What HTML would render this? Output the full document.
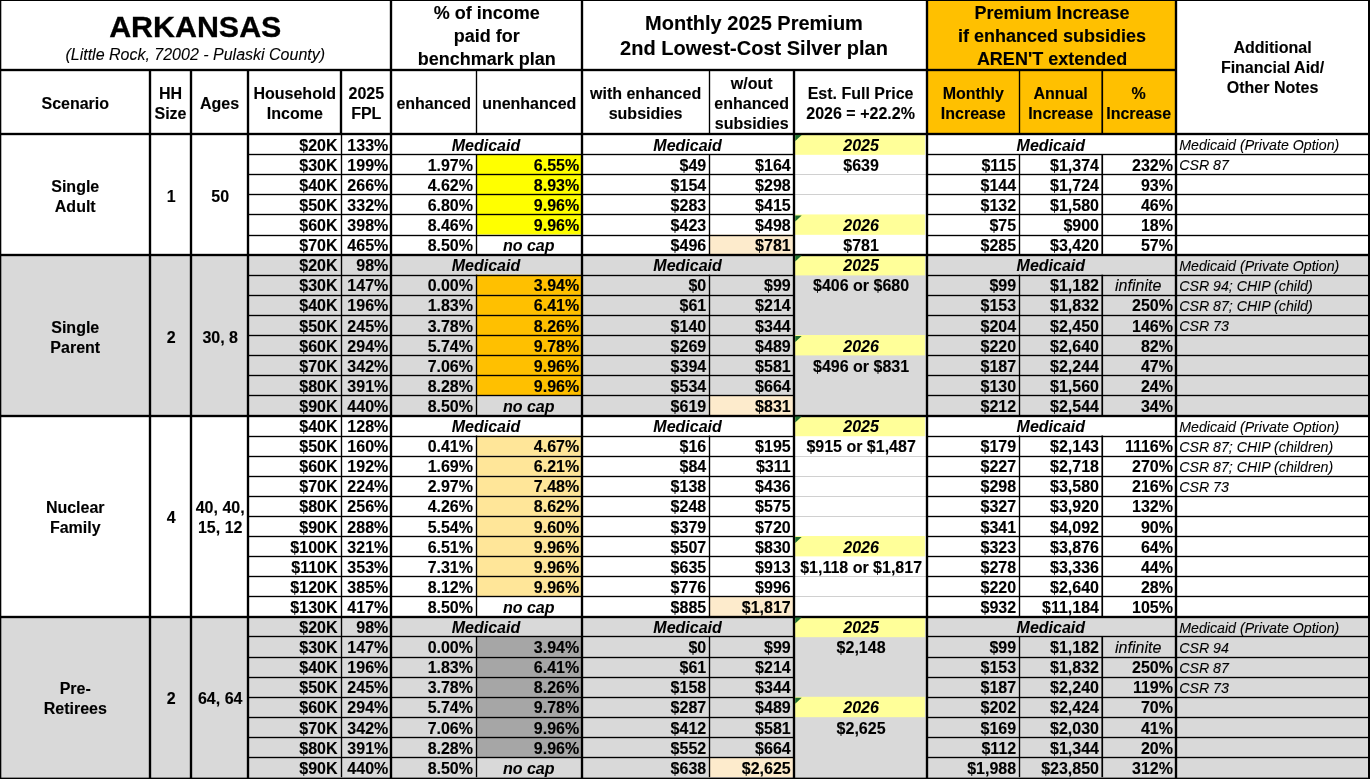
<!DOCTYPE html>
<html><head><meta charset="utf-8"><title>Arkansas</title>
<style>
html,body{margin:0;padding:0;background:#fff;}
html{width:1370px;height:779px;overflow:hidden;}
body{width:1370px;height:779px;overflow:hidden;position:relative;font-family:"Liberation Sans",sans-serif;color:#000;}
#wrap{position:absolute;left:0;top:0;width:1370px;height:779px;will-change:transform;overflow:hidden;}
.r{position:absolute;}
.t{position:absolute;display:flex;align-items:center;justify-content:center;text-align:center;font-weight:bold;font-size:16px;line-height:20px;white-space:nowrap;box-sizing:border-box;-webkit-text-stroke:0.12px #000;}
.t.rt{justify-content:flex-end;text-align:right;}
.t.lt{justify-content:flex-start;text-align:left;}
.t.i{font-style:italic;-webkit-text-stroke:0.06px #000;}
.t.n{font-weight:normal;-webkit-text-stroke:0.1px #000;}
.tri{position:absolute;width:0;height:0;border-top:6px solid #1f6e2f;border-right:6.5px solid transparent;}
</style></head><body>
<div id="wrap">
<svg width="1370" height="779" viewBox="0 0 1370 779" style="position:absolute;left:0;top:0">
<rect x="926.50" y="0.00" width="248.70" height="134.00" fill="#ffc000"/>
<rect x="794.70" y="135.00" width="130.20" height="19.82" fill="#ffff99"/>
<rect x="476.00" y="154.12" width="105.50" height="20.10" fill="#ffff00"/>
<rect x="476.00" y="174.22" width="105.50" height="20.10" fill="#ffff00"/>
<rect x="476.00" y="194.32" width="105.50" height="20.10" fill="#ffff00"/>
<rect x="476.00" y="214.42" width="105.50" height="20.10" fill="#ffff00"/>
<rect x="794.70" y="214.42" width="130.20" height="20.40" fill="#ffff99"/>
<rect x="708.70" y="234.52" width="85.00" height="20.10" fill="#fdebcc"/>
<rect x="0.00" y="254.61" width="1370.00" height="160.79" fill="#d9d9d9"/>
<rect x="794.70" y="255.61" width="130.20" height="19.80" fill="#ffff99"/>
<rect x="476.00" y="274.71" width="105.50" height="20.10" fill="#ffc000"/>
<rect x="476.00" y="294.81" width="105.50" height="20.10" fill="#ffc000"/>
<rect x="476.00" y="314.91" width="105.50" height="20.10" fill="#ffc000"/>
<rect x="476.00" y="335.01" width="105.50" height="20.10" fill="#ffc000"/>
<rect x="794.70" y="335.01" width="130.20" height="20.40" fill="#ffff99"/>
<rect x="476.00" y="355.11" width="105.50" height="20.10" fill="#ffc000"/>
<rect x="476.00" y="375.21" width="105.50" height="20.10" fill="#ffc000"/>
<rect x="708.70" y="395.31" width="85.00" height="20.10" fill="#fdebcc"/>
<rect x="794.70" y="416.41" width="130.20" height="19.80" fill="#ffff99"/>
<rect x="476.00" y="435.50" width="105.50" height="20.10" fill="#ffe699"/>
<rect x="476.00" y="455.60" width="105.50" height="20.10" fill="#ffe699"/>
<rect x="476.00" y="475.70" width="105.50" height="20.10" fill="#ffe699"/>
<rect x="476.00" y="495.80" width="105.50" height="20.10" fill="#ffe699"/>
<rect x="476.00" y="515.90" width="105.50" height="20.10" fill="#ffe699"/>
<rect x="476.00" y="536.00" width="105.50" height="20.10" fill="#ffe699"/>
<rect x="794.70" y="536.00" width="130.20" height="20.40" fill="#ffff99"/>
<rect x="476.00" y="556.10" width="105.50" height="20.10" fill="#ffe699"/>
<rect x="476.00" y="576.20" width="105.50" height="20.10" fill="#ffe699"/>
<rect x="708.70" y="596.30" width="85.00" height="20.10" fill="#fdebcc"/>
<rect x="0.00" y="616.40" width="1370.00" height="160.79" fill="#d9d9d9"/>
<rect x="794.70" y="617.40" width="130.20" height="19.80" fill="#ffff99"/>
<rect x="476.00" y="636.50" width="105.50" height="20.10" fill="#a6a6a6"/>
<rect x="476.00" y="656.59" width="105.50" height="20.10" fill="#a6a6a6"/>
<rect x="476.00" y="676.69" width="105.50" height="20.10" fill="#a6a6a6"/>
<rect x="476.00" y="696.79" width="105.50" height="20.10" fill="#a6a6a6"/>
<rect x="794.70" y="696.79" width="130.20" height="20.40" fill="#ffff99"/>
<rect x="476.00" y="716.89" width="105.50" height="20.10" fill="#a6a6a6"/>
<rect x="476.00" y="736.99" width="105.50" height="20.10" fill="#a6a6a6"/>
<rect x="708.70" y="757.09" width="85.00" height="20.10" fill="#fdebcc"/>
<rect x="793.70" y="174.00" width="132.80" height="1.00" fill="#d0d0d0"/>
<rect x="793.70" y="194.00" width="132.80" height="1.00" fill="#d0d0d0"/>
<rect x="793.70" y="456.00" width="132.80" height="1.00" fill="#d0d0d0"/>
<rect x="793.70" y="476.00" width="132.80" height="1.00" fill="#d0d0d0"/>
<rect x="793.70" y="496.00" width="132.80" height="1.00" fill="#d0d0d0"/>
<rect x="793.70" y="516.00" width="132.80" height="1.00" fill="#d0d0d0"/>
<rect x="793.70" y="576.00" width="132.80" height="1.00" fill="#d0d0d0"/>
<rect x="793.70" y="596.00" width="132.80" height="1.00" fill="#d0d0d0"/>
<rect x="247.50" y="153.82" width="546.20" height="1.36" fill="#000"/>
<rect x="926.50" y="153.82" width="443.50" height="1.36" fill="#000"/>
<rect x="247.50" y="173.82" width="546.20" height="1.36" fill="#000"/>
<rect x="926.50" y="173.82" width="443.50" height="1.36" fill="#000"/>
<rect x="247.50" y="193.82" width="546.20" height="1.36" fill="#000"/>
<rect x="926.50" y="193.82" width="443.50" height="1.36" fill="#000"/>
<rect x="247.50" y="213.82" width="546.20" height="1.36" fill="#000"/>
<rect x="926.50" y="213.82" width="443.50" height="1.36" fill="#000"/>
<rect x="247.50" y="234.82" width="546.20" height="1.36" fill="#000"/>
<rect x="926.50" y="234.82" width="443.50" height="1.36" fill="#000"/>
<rect x="340.82" y="134.00" width="1.36" height="120.61" fill="#000"/>
<rect x="475.82" y="154.12" width="1.36" height="100.50" fill="#000"/>
<rect x="708.82" y="154.12" width="1.36" height="100.50" fill="#000"/>
<rect x="1018.82" y="154.12" width="1.36" height="100.50" fill="#000"/>
<rect x="1101.40" y="154.12" width="1.70" height="100.50" fill="#000"/>
<rect x="247.50" y="274.82" width="546.20" height="1.36" fill="#000"/>
<rect x="926.50" y="274.82" width="443.50" height="1.36" fill="#000"/>
<rect x="247.50" y="294.82" width="546.20" height="1.36" fill="#000"/>
<rect x="926.50" y="294.82" width="443.50" height="1.36" fill="#000"/>
<rect x="247.50" y="314.82" width="546.20" height="1.36" fill="#000"/>
<rect x="926.50" y="314.82" width="443.50" height="1.36" fill="#000"/>
<rect x="247.50" y="334.82" width="546.20" height="1.36" fill="#000"/>
<rect x="926.50" y="334.82" width="443.50" height="1.36" fill="#000"/>
<rect x="247.50" y="354.82" width="546.20" height="1.36" fill="#000"/>
<rect x="926.50" y="354.82" width="443.50" height="1.36" fill="#000"/>
<rect x="247.50" y="374.82" width="546.20" height="1.36" fill="#000"/>
<rect x="926.50" y="374.82" width="443.50" height="1.36" fill="#000"/>
<rect x="247.50" y="394.82" width="546.20" height="1.36" fill="#000"/>
<rect x="926.50" y="394.82" width="443.50" height="1.36" fill="#000"/>
<rect x="340.82" y="254.61" width="1.36" height="160.79" fill="#000"/>
<rect x="475.82" y="274.71" width="1.36" height="140.69" fill="#000"/>
<rect x="708.82" y="274.71" width="1.36" height="140.69" fill="#000"/>
<rect x="1018.82" y="274.71" width="1.36" height="140.69" fill="#000"/>
<rect x="1101.40" y="274.71" width="1.70" height="140.69" fill="#000"/>
<rect x="247.50" y="435.82" width="546.20" height="1.36" fill="#000"/>
<rect x="926.50" y="435.82" width="443.50" height="1.36" fill="#000"/>
<rect x="247.50" y="455.82" width="546.20" height="1.36" fill="#000"/>
<rect x="926.50" y="455.82" width="443.50" height="1.36" fill="#000"/>
<rect x="247.50" y="475.82" width="546.20" height="1.36" fill="#000"/>
<rect x="926.50" y="475.82" width="443.50" height="1.36" fill="#000"/>
<rect x="247.50" y="495.82" width="546.20" height="1.36" fill="#000"/>
<rect x="926.50" y="495.82" width="443.50" height="1.36" fill="#000"/>
<rect x="247.50" y="515.82" width="546.20" height="1.36" fill="#000"/>
<rect x="926.50" y="515.82" width="443.50" height="1.36" fill="#000"/>
<rect x="247.50" y="535.82" width="546.20" height="1.36" fill="#000"/>
<rect x="926.50" y="535.82" width="443.50" height="1.36" fill="#000"/>
<rect x="247.50" y="555.82" width="546.20" height="1.36" fill="#000"/>
<rect x="926.50" y="555.82" width="443.50" height="1.36" fill="#000"/>
<rect x="247.50" y="575.82" width="546.20" height="1.36" fill="#000"/>
<rect x="926.50" y="575.82" width="443.50" height="1.36" fill="#000"/>
<rect x="247.50" y="595.82" width="546.20" height="1.36" fill="#000"/>
<rect x="926.50" y="595.82" width="443.50" height="1.36" fill="#000"/>
<rect x="340.82" y="415.41" width="1.36" height="200.99" fill="#000"/>
<rect x="475.82" y="435.50" width="1.36" height="180.89" fill="#000"/>
<rect x="708.82" y="435.50" width="1.36" height="180.89" fill="#000"/>
<rect x="1018.82" y="435.50" width="1.36" height="180.89" fill="#000"/>
<rect x="1101.40" y="435.50" width="1.70" height="180.89" fill="#000"/>
<rect x="247.50" y="635.82" width="546.20" height="1.36" fill="#000"/>
<rect x="926.50" y="635.82" width="443.50" height="1.36" fill="#000"/>
<rect x="247.50" y="656.82" width="546.20" height="1.36" fill="#000"/>
<rect x="926.50" y="656.82" width="443.50" height="1.36" fill="#000"/>
<rect x="247.50" y="676.82" width="546.20" height="1.36" fill="#000"/>
<rect x="926.50" y="676.82" width="443.50" height="1.36" fill="#000"/>
<rect x="247.50" y="696.82" width="546.20" height="1.36" fill="#000"/>
<rect x="926.50" y="696.82" width="443.50" height="1.36" fill="#000"/>
<rect x="247.50" y="716.82" width="546.20" height="1.36" fill="#000"/>
<rect x="926.50" y="716.82" width="443.50" height="1.36" fill="#000"/>
<rect x="247.50" y="736.82" width="546.20" height="1.36" fill="#000"/>
<rect x="926.50" y="736.82" width="443.50" height="1.36" fill="#000"/>
<rect x="247.50" y="756.82" width="546.20" height="1.36" fill="#000"/>
<rect x="926.50" y="756.82" width="443.50" height="1.36" fill="#000"/>
<rect x="340.82" y="616.40" width="1.36" height="160.79" fill="#000"/>
<rect x="475.82" y="636.50" width="1.36" height="140.69" fill="#000"/>
<rect x="708.82" y="636.50" width="1.36" height="140.69" fill="#000"/>
<rect x="1018.82" y="636.50" width="1.36" height="140.69" fill="#000"/>
<rect x="1101.40" y="636.50" width="1.70" height="140.69" fill="#000"/>
<rect x="475.82" y="70.00" width="1.36" height="64.00" fill="#000"/>
<rect x="708.82" y="70.00" width="1.36" height="64.00" fill="#000"/>
<rect x="339.82" y="70.00" width="2.36" height="64.00" fill="#000"/>
<rect x="1018.82" y="70.00" width="1.36" height="64.00" fill="#000"/>
<rect x="1101.40" y="70.00" width="1.70" height="64.00" fill="#000"/>
<rect x="148.82" y="70.00" width="2.36" height="709.00" fill="#000"/>
<rect x="189.82" y="70.00" width="2.36" height="709.00" fill="#000"/>
<rect x="246.82" y="70.00" width="2.36" height="709.00" fill="#000"/>
<rect x="389.82" y="0.00" width="2.36" height="779.00" fill="#000"/>
<rect x="580.82" y="0.00" width="2.36" height="779.00" fill="#000"/>
<rect x="925.82" y="0.00" width="2.36" height="779.00" fill="#000"/>
<rect x="1174.82" y="0.00" width="2.36" height="779.00" fill="#000"/>
<rect x="792.82" y="70.00" width="2.36" height="709.00" fill="#000"/>
<rect x="0.00" y="0.00" width="1.30" height="779.00" fill="#000"/>
<rect x="1368.00" y="0.00" width="2.00" height="779.00" fill="#000"/>
<rect x="0.00" y="0.00" width="1370.00" height="1.00" fill="#000"/>
<rect x="0.00" y="777.00" width="1370.00" height="1.00" fill="rgba(0,0,0,0.45)"/>
<rect x="0.00" y="778.00" width="1370.00" height="1.00" fill="#000"/>
<rect x="0.00" y="68.82" width="1175.20" height="2.36" fill="#000"/>
<rect x="0.00" y="132.82" width="1370.00" height="2.36" fill="#000"/>
<rect x="0.00" y="253.82" width="1370.00" height="2.36" fill="#000"/>
<rect x="0.00" y="414.82" width="1370.00" height="2.36" fill="#000"/>
<rect x="0.00" y="615.82" width="1370.00" height="2.36" fill="#000"/>
<path d="M795.20 135.00h6.50l-6.50 6.00z" fill="#1f6e2f"/>
<path d="M795.20 215.42h6.50l-6.50 6.00z" fill="#1f6e2f"/>
<path d="M795.20 255.61h6.50l-6.50 6.00z" fill="#1f6e2f"/>
<path d="M795.20 336.01h6.50l-6.50 6.00z" fill="#1f6e2f"/>
<path d="M795.20 416.41h6.50l-6.50 6.00z" fill="#1f6e2f"/>
<path d="M795.20 537.00h6.50l-6.50 6.00z" fill="#1f6e2f"/>
<path d="M795.20 617.40h6.50l-6.50 6.00z" fill="#1f6e2f"/>
<path d="M795.20 697.79h6.50l-6.50 6.00z" fill="#1f6e2f"/>
</svg>
<div class="t " style="left:0.00px;top:1.00px;width:390.50px;height:69.00px;font-size:30.4px;line-height:34px;align-items:flex-start;padding-top:8px;-webkit-text-stroke:0.3px #000"><span>ARKANSAS</span></div>
<div class="t i n" style="left:0.00px;top:1.00px;width:390.50px;height:69.00px;font-size:16px;line-height:18px;align-items:flex-start;padding-top:45px"><span>(Little Rock, 72002 - Pulaski County)</span></div>
<div class="t " style="left:392.10px;top:1.00px;width:189.40px;height:69.00px;font-size:18px;line-height:23px;padding-top:1px"><span>% of income<br>paid for<br>benchmark plan</span></div>
<div class="t " style="left:581.50px;top:1.00px;width:345.00px;height:69.00px;font-size:20px;line-height:25px;"><span>Monthly 2025 Premium<br>2nd Lowest-Cost Silver plan</span></div>
<div class="t " style="left:928.90px;top:1.00px;width:246.30px;height:69.00px;font-size:18px;line-height:23px;padding-top:2px"><span>Premium Increase<br>if enhanced subsidies<br>AREN'T extended</span></div>
<div class="t " style="left:1175.20px;top:1.00px;width:194.80px;height:134.00px;font-size:16px;line-height:20px;"><span>Additional<br>Financial Aid/<br>Other Notes</span></div>
<div class="t " style="left:0.00px;top:72.00px;width:150.50px;height:64.00px;font-size:16px;line-height:20px;"><span>Scenario</span></div>
<div class="t " style="left:149.50px;top:72.00px;width:42.00px;height:64.00px;font-size:16px;line-height:20px;"><span>HH<br>Size</span></div>
<div class="t " style="left:190.50px;top:72.00px;width:58.00px;height:64.00px;font-size:16px;line-height:20px;"><span>Ages</span></div>
<div class="t " style="left:247.50px;top:72.00px;width:94.60px;height:64.00px;font-size:16px;line-height:20px;"><span>Household<br>Income</span></div>
<div class="t " style="left:341.10px;top:72.00px;width:50.40px;height:64.00px;font-size:16px;line-height:20px;"><span>2025<br>FPL</span></div>
<div class="t " style="left:390.50px;top:72.00px;width:86.50px;height:64.00px;font-size:16px;line-height:20px;"><span>enhanced</span></div>
<div class="t " style="left:476.00px;top:72.00px;width:106.50px;height:64.00px;font-size:16px;line-height:20px;"><span>unenhanced</span></div>
<div class="t " style="left:581.50px;top:72.00px;width:128.20px;height:64.00px;font-size:16px;line-height:20px;"><span>with enhanced<br>subsidies</span></div>
<div class="t " style="left:708.70px;top:72.00px;width:86.00px;height:64.00px;font-size:16px;line-height:20px;"><span>w/out<br>enhanced<br>subsidies</span></div>
<div class="t " style="left:793.70px;top:72.00px;width:133.80px;height:64.00px;font-size:16px;line-height:20px;"><span>Est. Full Price<br>2026 = +22.2%</span></div>
<div class="t " style="left:926.50px;top:72.00px;width:93.60px;height:64.00px;font-size:16px;line-height:20px;"><span>Monthly<br>Increase</span></div>
<div class="t " style="left:1019.10px;top:72.00px;width:83.10px;height:64.00px;font-size:16px;line-height:20px;"><span>Annual<br>Increase</span></div>
<div class="t " style="left:1101.20px;top:72.00px;width:75.00px;height:64.00px;font-size:16px;line-height:20px;"><span>%<br>Increase</span></div>
<div class="t " style="left:0.00px;top:136.50px;width:150.50px;height:120.61px;"><span>Single<br>Adult</span></div>
<div class="t " style="left:150.20px;top:136.50px;width:42.00px;height:120.61px;"><span>1</span></div>
<div class="t " style="left:191.20px;top:136.50px;width:58.00px;height:120.61px;"><span>50</span></div>
<div class="t rt" style="left:247.50px;top:135.60px;width:90.00px;height:20.12px;"><span>$20K</span></div>
<div class="t rt" style="left:341.10px;top:135.60px;width:47.20px;height:20.12px;"><span>133%</span></div>
<div class="t i" style="left:390.50px;top:135.60px;width:191.00px;height:20.12px;"><span>Medicaid</span></div>
<div class="t i" style="left:581.50px;top:135.60px;width:212.20px;height:20.12px;"><span>Medicaid</span></div>
<div class="t i" style="left:926.50px;top:135.60px;width:248.70px;height:20.12px;"><span>Medicaid</span></div>
<div class="t lt i n" style="left:1179.20px;top:135.10px;width:190.80px;height:20.12px;font-size:14.2px"><span>Medicaid (Private Option)</span></div>
<div class="t i" style="left:795.70px;top:135.60px;width:130.80px;height:20.12px;"><span>2025</span></div>
<div class="t rt" style="left:247.50px;top:155.72px;width:90.00px;height:20.10px;"><span>$30K</span></div>
<div class="t rt" style="left:341.10px;top:155.72px;width:47.20px;height:20.10px;"><span>199%</span></div>
<div class="t rt" style="left:390.50px;top:155.72px;width:82.50px;height:20.10px;"><span>1.97%</span></div>
<div class="t rt" style="left:476.00px;top:155.72px;width:103.20px;height:20.10px;"><span>6.55%</span></div>
<div class="t rt" style="left:581.50px;top:155.72px;width:124.70px;height:20.10px;"><span>$49</span></div>
<div class="t rt" style="left:708.70px;top:155.72px;width:82.00px;height:20.10px;"><span>$164</span></div>
<div class="t rt" style="left:926.50px;top:155.72px;width:89.60px;height:20.10px;"><span>$115</span></div>
<div class="t rt" style="left:1019.10px;top:155.72px;width:79.90px;height:20.10px;"><span>$1,374</span></div>
<div class="t rt" style="left:1101.20px;top:155.72px;width:71.80px;height:20.10px;"><span>232%</span></div>
<div class="t lt i n" style="left:1179.20px;top:155.22px;width:190.80px;height:20.10px;font-size:14.2px"><span>CSR 87</span></div>
<div class="t " style="left:795.70px;top:155.72px;width:130.80px;height:20.10px;"><span>$639</span></div>
<div class="t rt" style="left:247.50px;top:175.82px;width:90.00px;height:20.10px;"><span>$40K</span></div>
<div class="t rt" style="left:341.10px;top:175.82px;width:47.20px;height:20.10px;"><span>266%</span></div>
<div class="t rt" style="left:390.50px;top:175.82px;width:82.50px;height:20.10px;"><span>4.62%</span></div>
<div class="t rt" style="left:476.00px;top:175.82px;width:103.20px;height:20.10px;"><span>8.93%</span></div>
<div class="t rt" style="left:581.50px;top:175.82px;width:124.70px;height:20.10px;"><span>$154</span></div>
<div class="t rt" style="left:708.70px;top:175.82px;width:82.00px;height:20.10px;"><span>$298</span></div>
<div class="t rt" style="left:926.50px;top:175.82px;width:89.60px;height:20.10px;"><span>$144</span></div>
<div class="t rt" style="left:1019.10px;top:175.82px;width:79.90px;height:20.10px;"><span>$1,724</span></div>
<div class="t rt" style="left:1101.20px;top:175.82px;width:71.80px;height:20.10px;"><span>93%</span></div>
<div class="t rt" style="left:247.50px;top:195.92px;width:90.00px;height:20.10px;"><span>$50K</span></div>
<div class="t rt" style="left:341.10px;top:195.92px;width:47.20px;height:20.10px;"><span>332%</span></div>
<div class="t rt" style="left:390.50px;top:195.92px;width:82.50px;height:20.10px;"><span>6.80%</span></div>
<div class="t rt" style="left:476.00px;top:195.92px;width:103.20px;height:20.10px;"><span>9.96%</span></div>
<div class="t rt" style="left:581.50px;top:195.92px;width:124.70px;height:20.10px;"><span>$283</span></div>
<div class="t rt" style="left:708.70px;top:195.92px;width:82.00px;height:20.10px;"><span>$415</span></div>
<div class="t rt" style="left:926.50px;top:195.92px;width:89.60px;height:20.10px;"><span>$132</span></div>
<div class="t rt" style="left:1019.10px;top:195.92px;width:79.90px;height:20.10px;"><span>$1,580</span></div>
<div class="t rt" style="left:1101.20px;top:195.92px;width:71.80px;height:20.10px;"><span>46%</span></div>
<div class="t rt" style="left:247.50px;top:216.02px;width:90.00px;height:20.10px;"><span>$60K</span></div>
<div class="t rt" style="left:341.10px;top:216.02px;width:47.20px;height:20.10px;"><span>398%</span></div>
<div class="t rt" style="left:390.50px;top:216.02px;width:82.50px;height:20.10px;"><span>8.46%</span></div>
<div class="t rt" style="left:476.00px;top:216.02px;width:103.20px;height:20.10px;"><span>9.96%</span></div>
<div class="t rt" style="left:581.50px;top:216.02px;width:124.70px;height:20.10px;"><span>$423</span></div>
<div class="t rt" style="left:708.70px;top:216.02px;width:82.00px;height:20.10px;"><span>$498</span></div>
<div class="t rt" style="left:926.50px;top:216.02px;width:89.60px;height:20.10px;"><span>$75</span></div>
<div class="t rt" style="left:1019.10px;top:216.02px;width:79.90px;height:20.10px;"><span>$900</span></div>
<div class="t rt" style="left:1101.20px;top:216.02px;width:71.80px;height:20.10px;"><span>18%</span></div>
<div class="t i" style="left:795.70px;top:216.02px;width:130.80px;height:20.10px;"><span>2026</span></div>
<div class="t rt" style="left:247.50px;top:236.12px;width:90.00px;height:20.10px;"><span>$70K</span></div>
<div class="t rt" style="left:341.10px;top:236.12px;width:47.20px;height:20.10px;"><span>465%</span></div>
<div class="t rt" style="left:390.50px;top:236.12px;width:82.50px;height:20.10px;"><span>8.50%</span></div>
<div class="t i" style="left:476.00px;top:236.12px;width:105.50px;height:20.10px;"><span>no cap</span></div>
<div class="t rt" style="left:581.50px;top:236.12px;width:124.70px;height:20.10px;"><span>$496</span></div>
<div class="t rt" style="left:708.70px;top:236.12px;width:82.00px;height:20.10px;"><span>$781</span></div>
<div class="t rt" style="left:926.50px;top:236.12px;width:89.60px;height:20.10px;"><span>$285</span></div>
<div class="t rt" style="left:1019.10px;top:236.12px;width:79.90px;height:20.10px;"><span>$3,420</span></div>
<div class="t rt" style="left:1101.20px;top:236.12px;width:71.80px;height:20.10px;"><span>57%</span></div>
<div class="t " style="left:795.70px;top:236.12px;width:130.80px;height:20.10px;"><span>$781</span></div>
<div class="t " style="left:0.00px;top:257.11px;width:150.50px;height:160.79px;"><span>Single<br>Parent</span></div>
<div class="t " style="left:150.20px;top:257.11px;width:42.00px;height:160.79px;"><span>2</span></div>
<div class="t " style="left:191.20px;top:257.11px;width:58.00px;height:160.79px;"><span>30, 8</span></div>
<div class="t rt" style="left:247.50px;top:256.21px;width:90.00px;height:20.10px;"><span>$20K</span></div>
<div class="t rt" style="left:341.10px;top:256.21px;width:47.20px;height:20.10px;"><span>98%</span></div>
<div class="t i" style="left:390.50px;top:256.21px;width:191.00px;height:20.10px;"><span>Medicaid</span></div>
<div class="t i" style="left:581.50px;top:256.21px;width:212.20px;height:20.10px;"><span>Medicaid</span></div>
<div class="t i" style="left:926.50px;top:256.21px;width:248.70px;height:20.10px;"><span>Medicaid</span></div>
<div class="t lt i n" style="left:1179.20px;top:255.71px;width:190.80px;height:20.10px;font-size:14.2px"><span>Medicaid (Private Option)</span></div>
<div class="t i" style="left:795.70px;top:256.21px;width:130.80px;height:20.10px;"><span>2025</span></div>
<div class="t rt" style="left:247.50px;top:276.31px;width:90.00px;height:20.10px;"><span>$30K</span></div>
<div class="t rt" style="left:341.10px;top:276.31px;width:47.20px;height:20.10px;"><span>147%</span></div>
<div class="t rt" style="left:390.50px;top:276.31px;width:82.50px;height:20.10px;"><span>0.00%</span></div>
<div class="t rt" style="left:476.00px;top:276.31px;width:103.20px;height:20.10px;"><span>3.94%</span></div>
<div class="t rt" style="left:581.50px;top:276.31px;width:124.70px;height:20.10px;"><span>$0</span></div>
<div class="t rt" style="left:708.70px;top:276.31px;width:82.00px;height:20.10px;"><span>$99</span></div>
<div class="t rt" style="left:926.50px;top:276.31px;width:89.60px;height:20.10px;"><span>$99</span></div>
<div class="t rt" style="left:1019.10px;top:276.31px;width:79.90px;height:20.10px;"><span>$1,182</span></div>
<div class="t i n" style="left:1101.20px;top:276.31px;width:74.00px;height:20.10px;"><span>infinite</span></div>
<div class="t lt i n" style="left:1179.20px;top:275.81px;width:190.80px;height:20.10px;font-size:14.2px"><span>CSR 94; CHIP (child)</span></div>
<div class="t " style="left:795.70px;top:276.31px;width:130.80px;height:20.10px;"><span>$406 or $680</span></div>
<div class="t rt" style="left:247.50px;top:296.41px;width:90.00px;height:20.10px;"><span>$40K</span></div>
<div class="t rt" style="left:341.10px;top:296.41px;width:47.20px;height:20.10px;"><span>196%</span></div>
<div class="t rt" style="left:390.50px;top:296.41px;width:82.50px;height:20.10px;"><span>1.83%</span></div>
<div class="t rt" style="left:476.00px;top:296.41px;width:103.20px;height:20.10px;"><span>6.41%</span></div>
<div class="t rt" style="left:581.50px;top:296.41px;width:124.70px;height:20.10px;"><span>$61</span></div>
<div class="t rt" style="left:708.70px;top:296.41px;width:82.00px;height:20.10px;"><span>$214</span></div>
<div class="t rt" style="left:926.50px;top:296.41px;width:89.60px;height:20.10px;"><span>$153</span></div>
<div class="t rt" style="left:1019.10px;top:296.41px;width:79.90px;height:20.10px;"><span>$1,832</span></div>
<div class="t rt" style="left:1101.20px;top:296.41px;width:71.80px;height:20.10px;"><span>250%</span></div>
<div class="t lt i n" style="left:1179.20px;top:295.91px;width:190.80px;height:20.10px;font-size:14.2px"><span>CSR 87; CHIP (child)</span></div>
<div class="t rt" style="left:247.50px;top:316.51px;width:90.00px;height:20.10px;"><span>$50K</span></div>
<div class="t rt" style="left:341.10px;top:316.51px;width:47.20px;height:20.10px;"><span>245%</span></div>
<div class="t rt" style="left:390.50px;top:316.51px;width:82.50px;height:20.10px;"><span>3.78%</span></div>
<div class="t rt" style="left:476.00px;top:316.51px;width:103.20px;height:20.10px;"><span>8.26%</span></div>
<div class="t rt" style="left:581.50px;top:316.51px;width:124.70px;height:20.10px;"><span>$140</span></div>
<div class="t rt" style="left:708.70px;top:316.51px;width:82.00px;height:20.10px;"><span>$344</span></div>
<div class="t rt" style="left:926.50px;top:316.51px;width:89.60px;height:20.10px;"><span>$204</span></div>
<div class="t rt" style="left:1019.10px;top:316.51px;width:79.90px;height:20.10px;"><span>$2,450</span></div>
<div class="t rt" style="left:1101.20px;top:316.51px;width:71.80px;height:20.10px;"><span>146%</span></div>
<div class="t lt i n" style="left:1179.20px;top:316.01px;width:190.80px;height:20.10px;font-size:14.2px"><span>CSR 73</span></div>
<div class="t rt" style="left:247.50px;top:336.61px;width:90.00px;height:20.10px;"><span>$60K</span></div>
<div class="t rt" style="left:341.10px;top:336.61px;width:47.20px;height:20.10px;"><span>294%</span></div>
<div class="t rt" style="left:390.50px;top:336.61px;width:82.50px;height:20.10px;"><span>5.74%</span></div>
<div class="t rt" style="left:476.00px;top:336.61px;width:103.20px;height:20.10px;"><span>9.78%</span></div>
<div class="t rt" style="left:581.50px;top:336.61px;width:124.70px;height:20.10px;"><span>$269</span></div>
<div class="t rt" style="left:708.70px;top:336.61px;width:82.00px;height:20.10px;"><span>$489</span></div>
<div class="t rt" style="left:926.50px;top:336.61px;width:89.60px;height:20.10px;"><span>$220</span></div>
<div class="t rt" style="left:1019.10px;top:336.61px;width:79.90px;height:20.10px;"><span>$2,640</span></div>
<div class="t rt" style="left:1101.20px;top:336.61px;width:71.80px;height:20.10px;"><span>82%</span></div>
<div class="t i" style="left:795.70px;top:336.61px;width:130.80px;height:20.10px;"><span>2026</span></div>
<div class="t rt" style="left:247.50px;top:356.71px;width:90.00px;height:20.10px;"><span>$70K</span></div>
<div class="t rt" style="left:341.10px;top:356.71px;width:47.20px;height:20.10px;"><span>342%</span></div>
<div class="t rt" style="left:390.50px;top:356.71px;width:82.50px;height:20.10px;"><span>7.06%</span></div>
<div class="t rt" style="left:476.00px;top:356.71px;width:103.20px;height:20.10px;"><span>9.96%</span></div>
<div class="t rt" style="left:581.50px;top:356.71px;width:124.70px;height:20.10px;"><span>$394</span></div>
<div class="t rt" style="left:708.70px;top:356.71px;width:82.00px;height:20.10px;"><span>$581</span></div>
<div class="t rt" style="left:926.50px;top:356.71px;width:89.60px;height:20.10px;"><span>$187</span></div>
<div class="t rt" style="left:1019.10px;top:356.71px;width:79.90px;height:20.10px;"><span>$2,244</span></div>
<div class="t rt" style="left:1101.20px;top:356.71px;width:71.80px;height:20.10px;"><span>47%</span></div>
<div class="t " style="left:795.70px;top:356.71px;width:130.80px;height:20.10px;"><span>$496 or $831</span></div>
<div class="t rt" style="left:247.50px;top:376.81px;width:90.00px;height:20.10px;"><span>$80K</span></div>
<div class="t rt" style="left:341.10px;top:376.81px;width:47.20px;height:20.10px;"><span>391%</span></div>
<div class="t rt" style="left:390.50px;top:376.81px;width:82.50px;height:20.10px;"><span>8.28%</span></div>
<div class="t rt" style="left:476.00px;top:376.81px;width:103.20px;height:20.10px;"><span>9.96%</span></div>
<div class="t rt" style="left:581.50px;top:376.81px;width:124.70px;height:20.10px;"><span>$534</span></div>
<div class="t rt" style="left:708.70px;top:376.81px;width:82.00px;height:20.10px;"><span>$664</span></div>
<div class="t rt" style="left:926.50px;top:376.81px;width:89.60px;height:20.10px;"><span>$130</span></div>
<div class="t rt" style="left:1019.10px;top:376.81px;width:79.90px;height:20.10px;"><span>$1,560</span></div>
<div class="t rt" style="left:1101.20px;top:376.81px;width:71.80px;height:20.10px;"><span>24%</span></div>
<div class="t rt" style="left:247.50px;top:396.91px;width:90.00px;height:20.10px;"><span>$90K</span></div>
<div class="t rt" style="left:341.10px;top:396.91px;width:47.20px;height:20.10px;"><span>440%</span></div>
<div class="t rt" style="left:390.50px;top:396.91px;width:82.50px;height:20.10px;"><span>8.50%</span></div>
<div class="t i" style="left:476.00px;top:396.91px;width:105.50px;height:20.10px;"><span>no cap</span></div>
<div class="t rt" style="left:581.50px;top:396.91px;width:124.70px;height:20.10px;"><span>$619</span></div>
<div class="t rt" style="left:708.70px;top:396.91px;width:82.00px;height:20.10px;"><span>$831</span></div>
<div class="t rt" style="left:926.50px;top:396.91px;width:89.60px;height:20.10px;"><span>$212</span></div>
<div class="t rt" style="left:1019.10px;top:396.91px;width:79.90px;height:20.10px;"><span>$2,544</span></div>
<div class="t rt" style="left:1101.20px;top:396.91px;width:71.80px;height:20.10px;"><span>34%</span></div>
<div class="t " style="left:0.00px;top:417.91px;width:150.50px;height:200.99px;"><span>Nuclear<br>Family</span></div>
<div class="t " style="left:150.20px;top:417.91px;width:42.00px;height:200.99px;"><span>4</span></div>
<div class="t " style="left:191.20px;top:417.91px;width:58.00px;height:200.99px;"><span>40, 40,<br>15, 12</span></div>
<div class="t rt" style="left:247.50px;top:417.01px;width:90.00px;height:20.10px;"><span>$40K</span></div>
<div class="t rt" style="left:341.10px;top:417.01px;width:47.20px;height:20.10px;"><span>128%</span></div>
<div class="t i" style="left:390.50px;top:417.01px;width:191.00px;height:20.10px;"><span>Medicaid</span></div>
<div class="t i" style="left:581.50px;top:417.01px;width:212.20px;height:20.10px;"><span>Medicaid</span></div>
<div class="t i" style="left:926.50px;top:417.01px;width:248.70px;height:20.10px;"><span>Medicaid</span></div>
<div class="t lt i n" style="left:1179.20px;top:416.51px;width:190.80px;height:20.10px;font-size:14.2px"><span>Medicaid (Private Option)</span></div>
<div class="t i" style="left:795.70px;top:417.01px;width:130.80px;height:20.10px;"><span>2025</span></div>
<div class="t rt" style="left:247.50px;top:437.11px;width:90.00px;height:20.10px;"><span>$50K</span></div>
<div class="t rt" style="left:341.10px;top:437.11px;width:47.20px;height:20.10px;"><span>160%</span></div>
<div class="t rt" style="left:390.50px;top:437.11px;width:82.50px;height:20.10px;"><span>0.41%</span></div>
<div class="t rt" style="left:476.00px;top:437.11px;width:103.20px;height:20.10px;"><span>4.67%</span></div>
<div class="t rt" style="left:581.50px;top:437.11px;width:124.70px;height:20.10px;"><span>$16</span></div>
<div class="t rt" style="left:708.70px;top:437.11px;width:82.00px;height:20.10px;"><span>$195</span></div>
<div class="t rt" style="left:926.50px;top:437.11px;width:89.60px;height:20.10px;"><span>$179</span></div>
<div class="t rt" style="left:1019.10px;top:437.11px;width:79.90px;height:20.10px;"><span>$2,143</span></div>
<div class="t rt" style="left:1101.20px;top:437.11px;width:71.80px;height:20.10px;"><span>1116%</span></div>
<div class="t lt i n" style="left:1179.20px;top:436.61px;width:190.80px;height:20.10px;font-size:14.2px"><span>CSR 87; CHIP (children)</span></div>
<div class="t " style="left:795.70px;top:437.11px;width:130.80px;height:20.10px;"><span>$915 or $1,487</span></div>
<div class="t rt" style="left:247.50px;top:457.20px;width:90.00px;height:20.10px;"><span>$60K</span></div>
<div class="t rt" style="left:341.10px;top:457.20px;width:47.20px;height:20.10px;"><span>192%</span></div>
<div class="t rt" style="left:390.50px;top:457.20px;width:82.50px;height:20.10px;"><span>1.69%</span></div>
<div class="t rt" style="left:476.00px;top:457.20px;width:103.20px;height:20.10px;"><span>6.21%</span></div>
<div class="t rt" style="left:581.50px;top:457.20px;width:124.70px;height:20.10px;"><span>$84</span></div>
<div class="t rt" style="left:708.70px;top:457.20px;width:82.00px;height:20.10px;"><span>$311</span></div>
<div class="t rt" style="left:926.50px;top:457.20px;width:89.60px;height:20.10px;"><span>$227</span></div>
<div class="t rt" style="left:1019.10px;top:457.20px;width:79.90px;height:20.10px;"><span>$2,718</span></div>
<div class="t rt" style="left:1101.20px;top:457.20px;width:71.80px;height:20.10px;"><span>270%</span></div>
<div class="t lt i n" style="left:1179.20px;top:456.70px;width:190.80px;height:20.10px;font-size:14.2px"><span>CSR 87; CHIP (children)</span></div>
<div class="t rt" style="left:247.50px;top:477.30px;width:90.00px;height:20.10px;"><span>$70K</span></div>
<div class="t rt" style="left:341.10px;top:477.30px;width:47.20px;height:20.10px;"><span>224%</span></div>
<div class="t rt" style="left:390.50px;top:477.30px;width:82.50px;height:20.10px;"><span>2.97%</span></div>
<div class="t rt" style="left:476.00px;top:477.30px;width:103.20px;height:20.10px;"><span>7.48%</span></div>
<div class="t rt" style="left:581.50px;top:477.30px;width:124.70px;height:20.10px;"><span>$138</span></div>
<div class="t rt" style="left:708.70px;top:477.30px;width:82.00px;height:20.10px;"><span>$436</span></div>
<div class="t rt" style="left:926.50px;top:477.30px;width:89.60px;height:20.10px;"><span>$298</span></div>
<div class="t rt" style="left:1019.10px;top:477.30px;width:79.90px;height:20.10px;"><span>$3,580</span></div>
<div class="t rt" style="left:1101.20px;top:477.30px;width:71.80px;height:20.10px;"><span>216%</span></div>
<div class="t lt i n" style="left:1179.20px;top:476.80px;width:190.80px;height:20.10px;font-size:14.2px"><span>CSR 73</span></div>
<div class="t rt" style="left:247.50px;top:497.40px;width:90.00px;height:20.10px;"><span>$80K</span></div>
<div class="t rt" style="left:341.10px;top:497.40px;width:47.20px;height:20.10px;"><span>256%</span></div>
<div class="t rt" style="left:390.50px;top:497.40px;width:82.50px;height:20.10px;"><span>4.26%</span></div>
<div class="t rt" style="left:476.00px;top:497.40px;width:103.20px;height:20.10px;"><span>8.62%</span></div>
<div class="t rt" style="left:581.50px;top:497.40px;width:124.70px;height:20.10px;"><span>$248</span></div>
<div class="t rt" style="left:708.70px;top:497.40px;width:82.00px;height:20.10px;"><span>$575</span></div>
<div class="t rt" style="left:926.50px;top:497.40px;width:89.60px;height:20.10px;"><span>$327</span></div>
<div class="t rt" style="left:1019.10px;top:497.40px;width:79.90px;height:20.10px;"><span>$3,920</span></div>
<div class="t rt" style="left:1101.20px;top:497.40px;width:71.80px;height:20.10px;"><span>132%</span></div>
<div class="t rt" style="left:247.50px;top:517.50px;width:90.00px;height:20.10px;"><span>$90K</span></div>
<div class="t rt" style="left:341.10px;top:517.50px;width:47.20px;height:20.10px;"><span>288%</span></div>
<div class="t rt" style="left:390.50px;top:517.50px;width:82.50px;height:20.10px;"><span>5.54%</span></div>
<div class="t rt" style="left:476.00px;top:517.50px;width:103.20px;height:20.10px;"><span>9.60%</span></div>
<div class="t rt" style="left:581.50px;top:517.50px;width:124.70px;height:20.10px;"><span>$379</span></div>
<div class="t rt" style="left:708.70px;top:517.50px;width:82.00px;height:20.10px;"><span>$720</span></div>
<div class="t rt" style="left:926.50px;top:517.50px;width:89.60px;height:20.10px;"><span>$341</span></div>
<div class="t rt" style="left:1019.10px;top:517.50px;width:79.90px;height:20.10px;"><span>$4,092</span></div>
<div class="t rt" style="left:1101.20px;top:517.50px;width:71.80px;height:20.10px;"><span>90%</span></div>
<div class="t rt" style="left:247.50px;top:537.60px;width:90.00px;height:20.10px;"><span>$100K</span></div>
<div class="t rt" style="left:341.10px;top:537.60px;width:47.20px;height:20.10px;"><span>321%</span></div>
<div class="t rt" style="left:390.50px;top:537.60px;width:82.50px;height:20.10px;"><span>6.51%</span></div>
<div class="t rt" style="left:476.00px;top:537.60px;width:103.20px;height:20.10px;"><span>9.96%</span></div>
<div class="t rt" style="left:581.50px;top:537.60px;width:124.70px;height:20.10px;"><span>$507</span></div>
<div class="t rt" style="left:708.70px;top:537.60px;width:82.00px;height:20.10px;"><span>$830</span></div>
<div class="t rt" style="left:926.50px;top:537.60px;width:89.60px;height:20.10px;"><span>$323</span></div>
<div class="t rt" style="left:1019.10px;top:537.60px;width:79.90px;height:20.10px;"><span>$3,876</span></div>
<div class="t rt" style="left:1101.20px;top:537.60px;width:71.80px;height:20.10px;"><span>64%</span></div>
<div class="t i" style="left:795.70px;top:537.60px;width:130.80px;height:20.10px;"><span>2026</span></div>
<div class="t rt" style="left:247.50px;top:557.70px;width:90.00px;height:20.10px;"><span>$110K</span></div>
<div class="t rt" style="left:341.10px;top:557.70px;width:47.20px;height:20.10px;"><span>353%</span></div>
<div class="t rt" style="left:390.50px;top:557.70px;width:82.50px;height:20.10px;"><span>7.31%</span></div>
<div class="t rt" style="left:476.00px;top:557.70px;width:103.20px;height:20.10px;"><span>9.96%</span></div>
<div class="t rt" style="left:581.50px;top:557.70px;width:124.70px;height:20.10px;"><span>$635</span></div>
<div class="t rt" style="left:708.70px;top:557.70px;width:82.00px;height:20.10px;"><span>$913</span></div>
<div class="t rt" style="left:926.50px;top:557.70px;width:89.60px;height:20.10px;"><span>$278</span></div>
<div class="t rt" style="left:1019.10px;top:557.70px;width:79.90px;height:20.10px;"><span>$3,336</span></div>
<div class="t rt" style="left:1101.20px;top:557.70px;width:71.80px;height:20.10px;"><span>44%</span></div>
<div class="t " style="left:795.70px;top:557.70px;width:130.80px;height:20.10px;"><span>$1,118 or $1,817</span></div>
<div class="t rt" style="left:247.50px;top:577.80px;width:90.00px;height:20.10px;"><span>$120K</span></div>
<div class="t rt" style="left:341.10px;top:577.80px;width:47.20px;height:20.10px;"><span>385%</span></div>
<div class="t rt" style="left:390.50px;top:577.80px;width:82.50px;height:20.10px;"><span>8.12%</span></div>
<div class="t rt" style="left:476.00px;top:577.80px;width:103.20px;height:20.10px;"><span>9.96%</span></div>
<div class="t rt" style="left:581.50px;top:577.80px;width:124.70px;height:20.10px;"><span>$776</span></div>
<div class="t rt" style="left:708.70px;top:577.80px;width:82.00px;height:20.10px;"><span>$996</span></div>
<div class="t rt" style="left:926.50px;top:577.80px;width:89.60px;height:20.10px;"><span>$220</span></div>
<div class="t rt" style="left:1019.10px;top:577.80px;width:79.90px;height:20.10px;"><span>$2,640</span></div>
<div class="t rt" style="left:1101.20px;top:577.80px;width:71.80px;height:20.10px;"><span>28%</span></div>
<div class="t rt" style="left:247.50px;top:597.90px;width:90.00px;height:20.10px;"><span>$130K</span></div>
<div class="t rt" style="left:341.10px;top:597.90px;width:47.20px;height:20.10px;"><span>417%</span></div>
<div class="t rt" style="left:390.50px;top:597.90px;width:82.50px;height:20.10px;"><span>8.50%</span></div>
<div class="t i" style="left:476.00px;top:597.90px;width:105.50px;height:20.10px;"><span>no cap</span></div>
<div class="t rt" style="left:581.50px;top:597.90px;width:124.70px;height:20.10px;"><span>$885</span></div>
<div class="t rt" style="left:708.70px;top:597.90px;width:82.00px;height:20.10px;"><span>$1,817</span></div>
<div class="t rt" style="left:926.50px;top:597.90px;width:89.60px;height:20.10px;"><span>$932</span></div>
<div class="t rt" style="left:1019.10px;top:597.90px;width:79.90px;height:20.10px;"><span>$11,184</span></div>
<div class="t rt" style="left:1101.20px;top:597.90px;width:71.80px;height:20.10px;"><span>105%</span></div>
<div class="t " style="left:0.00px;top:618.90px;width:150.50px;height:160.79px;"><span>Pre-<br>Retirees</span></div>
<div class="t " style="left:150.20px;top:618.90px;width:42.00px;height:160.79px;"><span>2</span></div>
<div class="t " style="left:191.20px;top:618.90px;width:58.00px;height:160.79px;"><span>64, 64</span></div>
<div class="t rt" style="left:247.50px;top:618.00px;width:90.00px;height:20.10px;"><span>$20K</span></div>
<div class="t rt" style="left:341.10px;top:618.00px;width:47.20px;height:20.10px;"><span>98%</span></div>
<div class="t i" style="left:390.50px;top:618.00px;width:191.00px;height:20.10px;"><span>Medicaid</span></div>
<div class="t i" style="left:581.50px;top:618.00px;width:212.20px;height:20.10px;"><span>Medicaid</span></div>
<div class="t i" style="left:926.50px;top:618.00px;width:248.70px;height:20.10px;"><span>Medicaid</span></div>
<div class="t lt i n" style="left:1179.20px;top:617.50px;width:190.80px;height:20.10px;font-size:14.2px"><span>Medicaid (Private Option)</span></div>
<div class="t i" style="left:795.70px;top:618.00px;width:130.80px;height:20.10px;"><span>2025</span></div>
<div class="t rt" style="left:247.50px;top:638.10px;width:90.00px;height:20.10px;"><span>$30K</span></div>
<div class="t rt" style="left:341.10px;top:638.10px;width:47.20px;height:20.10px;"><span>147%</span></div>
<div class="t rt" style="left:390.50px;top:638.10px;width:82.50px;height:20.10px;"><span>0.00%</span></div>
<div class="t rt" style="left:476.00px;top:638.10px;width:103.20px;height:20.10px;"><span>3.94%</span></div>
<div class="t rt" style="left:581.50px;top:638.10px;width:124.70px;height:20.10px;"><span>$0</span></div>
<div class="t rt" style="left:708.70px;top:638.10px;width:82.00px;height:20.10px;"><span>$99</span></div>
<div class="t rt" style="left:926.50px;top:638.10px;width:89.60px;height:20.10px;"><span>$99</span></div>
<div class="t rt" style="left:1019.10px;top:638.10px;width:79.90px;height:20.10px;"><span>$1,182</span></div>
<div class="t i n" style="left:1101.20px;top:638.10px;width:74.00px;height:20.10px;"><span>infinite</span></div>
<div class="t lt i n" style="left:1179.20px;top:637.60px;width:190.80px;height:20.10px;font-size:14.2px"><span>CSR 94</span></div>
<div class="t " style="left:795.70px;top:638.10px;width:130.80px;height:20.10px;"><span>$2,148</span></div>
<div class="t rt" style="left:247.50px;top:658.19px;width:90.00px;height:20.10px;"><span>$40K</span></div>
<div class="t rt" style="left:341.10px;top:658.19px;width:47.20px;height:20.10px;"><span>196%</span></div>
<div class="t rt" style="left:390.50px;top:658.19px;width:82.50px;height:20.10px;"><span>1.83%</span></div>
<div class="t rt" style="left:476.00px;top:658.19px;width:103.20px;height:20.10px;"><span>6.41%</span></div>
<div class="t rt" style="left:581.50px;top:658.19px;width:124.70px;height:20.10px;"><span>$61</span></div>
<div class="t rt" style="left:708.70px;top:658.19px;width:82.00px;height:20.10px;"><span>$214</span></div>
<div class="t rt" style="left:926.50px;top:658.19px;width:89.60px;height:20.10px;"><span>$153</span></div>
<div class="t rt" style="left:1019.10px;top:658.19px;width:79.90px;height:20.10px;"><span>$1,832</span></div>
<div class="t rt" style="left:1101.20px;top:658.19px;width:71.80px;height:20.10px;"><span>250%</span></div>
<div class="t lt i n" style="left:1179.20px;top:657.69px;width:190.80px;height:20.10px;font-size:14.2px"><span>CSR 87</span></div>
<div class="t rt" style="left:247.50px;top:678.29px;width:90.00px;height:20.10px;"><span>$50K</span></div>
<div class="t rt" style="left:341.10px;top:678.29px;width:47.20px;height:20.10px;"><span>245%</span></div>
<div class="t rt" style="left:390.50px;top:678.29px;width:82.50px;height:20.10px;"><span>3.78%</span></div>
<div class="t rt" style="left:476.00px;top:678.29px;width:103.20px;height:20.10px;"><span>8.26%</span></div>
<div class="t rt" style="left:581.50px;top:678.29px;width:124.70px;height:20.10px;"><span>$158</span></div>
<div class="t rt" style="left:708.70px;top:678.29px;width:82.00px;height:20.10px;"><span>$344</span></div>
<div class="t rt" style="left:926.50px;top:678.29px;width:89.60px;height:20.10px;"><span>$187</span></div>
<div class="t rt" style="left:1019.10px;top:678.29px;width:79.90px;height:20.10px;"><span>$2,240</span></div>
<div class="t rt" style="left:1101.20px;top:678.29px;width:71.80px;height:20.10px;"><span>119%</span></div>
<div class="t lt i n" style="left:1179.20px;top:677.79px;width:190.80px;height:20.10px;font-size:14.2px"><span>CSR 73</span></div>
<div class="t rt" style="left:247.50px;top:698.39px;width:90.00px;height:20.10px;"><span>$60K</span></div>
<div class="t rt" style="left:341.10px;top:698.39px;width:47.20px;height:20.10px;"><span>294%</span></div>
<div class="t rt" style="left:390.50px;top:698.39px;width:82.50px;height:20.10px;"><span>5.74%</span></div>
<div class="t rt" style="left:476.00px;top:698.39px;width:103.20px;height:20.10px;"><span>9.78%</span></div>
<div class="t rt" style="left:581.50px;top:698.39px;width:124.70px;height:20.10px;"><span>$287</span></div>
<div class="t rt" style="left:708.70px;top:698.39px;width:82.00px;height:20.10px;"><span>$489</span></div>
<div class="t rt" style="left:926.50px;top:698.39px;width:89.60px;height:20.10px;"><span>$202</span></div>
<div class="t rt" style="left:1019.10px;top:698.39px;width:79.90px;height:20.10px;"><span>$2,424</span></div>
<div class="t rt" style="left:1101.20px;top:698.39px;width:71.80px;height:20.10px;"><span>70%</span></div>
<div class="t i" style="left:795.70px;top:698.39px;width:130.80px;height:20.10px;"><span>2026</span></div>
<div class="t rt" style="left:247.50px;top:718.49px;width:90.00px;height:20.10px;"><span>$70K</span></div>
<div class="t rt" style="left:341.10px;top:718.49px;width:47.20px;height:20.10px;"><span>342%</span></div>
<div class="t rt" style="left:390.50px;top:718.49px;width:82.50px;height:20.10px;"><span>7.06%</span></div>
<div class="t rt" style="left:476.00px;top:718.49px;width:103.20px;height:20.10px;"><span>9.96%</span></div>
<div class="t rt" style="left:581.50px;top:718.49px;width:124.70px;height:20.10px;"><span>$412</span></div>
<div class="t rt" style="left:708.70px;top:718.49px;width:82.00px;height:20.10px;"><span>$581</span></div>
<div class="t rt" style="left:926.50px;top:718.49px;width:89.60px;height:20.10px;"><span>$169</span></div>
<div class="t rt" style="left:1019.10px;top:718.49px;width:79.90px;height:20.10px;"><span>$2,030</span></div>
<div class="t rt" style="left:1101.20px;top:718.49px;width:71.80px;height:20.10px;"><span>41%</span></div>
<div class="t " style="left:795.70px;top:718.49px;width:130.80px;height:20.10px;"><span>$2,625</span></div>
<div class="t rt" style="left:247.50px;top:738.59px;width:90.00px;height:20.10px;"><span>$80K</span></div>
<div class="t rt" style="left:341.10px;top:738.59px;width:47.20px;height:20.10px;"><span>391%</span></div>
<div class="t rt" style="left:390.50px;top:738.59px;width:82.50px;height:20.10px;"><span>8.28%</span></div>
<div class="t rt" style="left:476.00px;top:738.59px;width:103.20px;height:20.10px;"><span>9.96%</span></div>
<div class="t rt" style="left:581.50px;top:738.59px;width:124.70px;height:20.10px;"><span>$552</span></div>
<div class="t rt" style="left:708.70px;top:738.59px;width:82.00px;height:20.10px;"><span>$664</span></div>
<div class="t rt" style="left:926.50px;top:738.59px;width:89.60px;height:20.10px;"><span>$112</span></div>
<div class="t rt" style="left:1019.10px;top:738.59px;width:79.90px;height:20.10px;"><span>$1,344</span></div>
<div class="t rt" style="left:1101.20px;top:738.59px;width:71.80px;height:20.10px;"><span>20%</span></div>
<div class="t rt" style="left:247.50px;top:758.69px;width:90.00px;height:20.10px;"><span>$90K</span></div>
<div class="t rt" style="left:341.10px;top:758.69px;width:47.20px;height:20.10px;"><span>440%</span></div>
<div class="t rt" style="left:390.50px;top:758.69px;width:82.50px;height:20.10px;"><span>8.50%</span></div>
<div class="t i" style="left:476.00px;top:758.69px;width:105.50px;height:20.10px;"><span>no cap</span></div>
<div class="t rt" style="left:581.50px;top:758.69px;width:124.70px;height:20.10px;"><span>$638</span></div>
<div class="t rt" style="left:708.70px;top:758.69px;width:82.00px;height:20.10px;"><span>$2,625</span></div>
<div class="t rt" style="left:926.50px;top:758.69px;width:89.60px;height:20.10px;"><span>$1,988</span></div>
<div class="t rt" style="left:1019.10px;top:758.69px;width:79.90px;height:20.10px;"><span>$23,850</span></div>
<div class="t rt" style="left:1101.20px;top:758.69px;width:71.80px;height:20.10px;"><span>312%</span></div>
</div>
</body></html>
